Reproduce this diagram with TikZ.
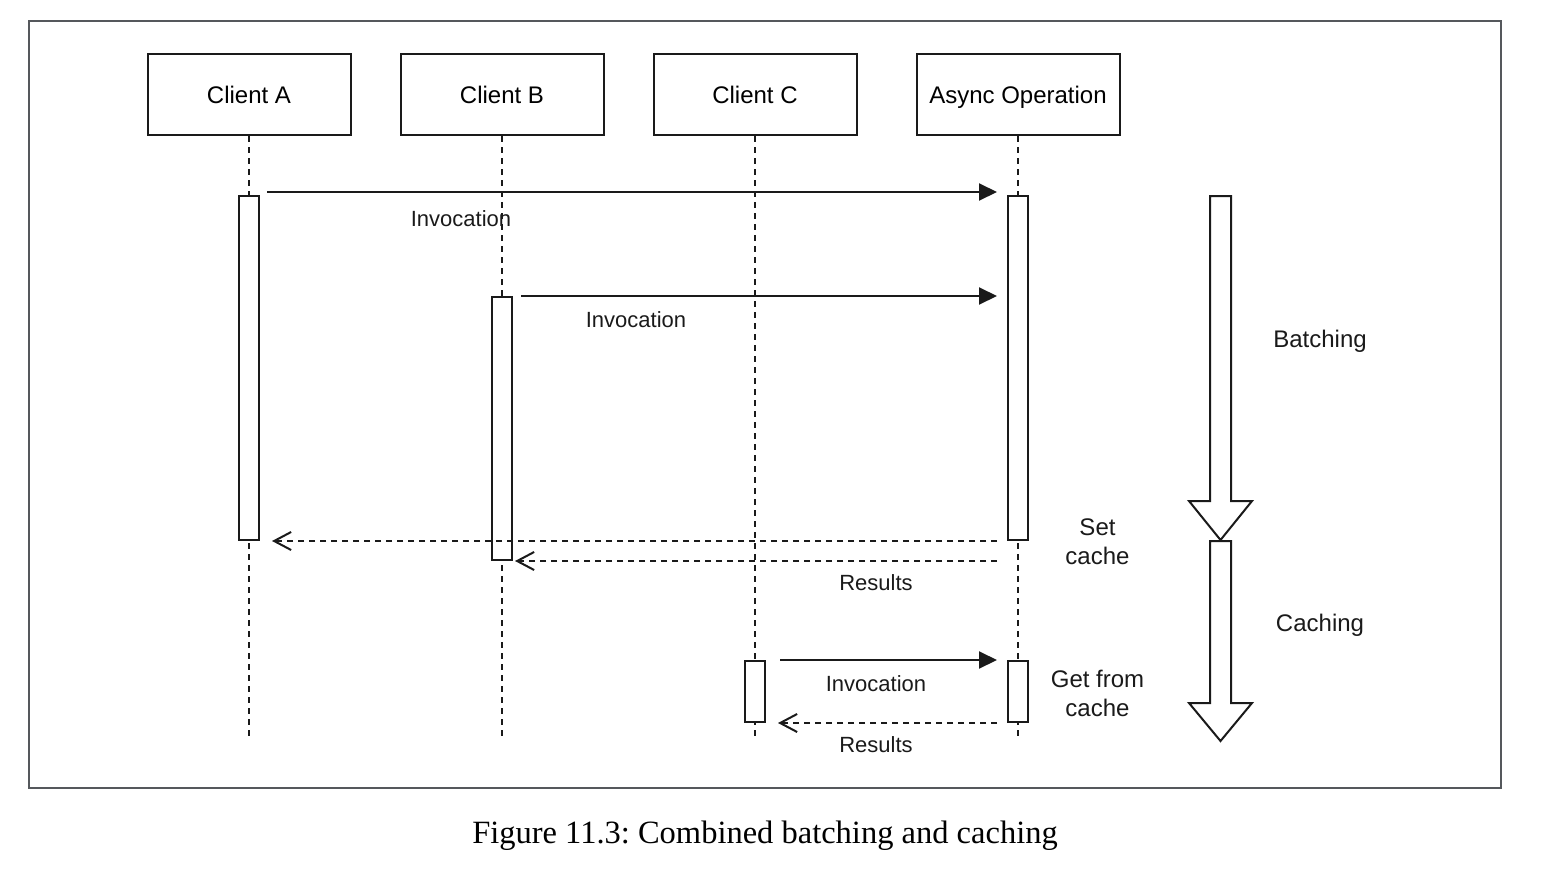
\documentclass[tikz,border=0pt]{standalone}
\usepackage{fontspec}
\setmainfont{Liberation Sans}
\newfontfamily\capfont{Liberation Serif}
\usetikzlibrary{arrows.meta,calc}
\definecolor{ink}{HTML}{1A1A1A}
\definecolor{framec}{HTML}{55585C}
\frenchspacing
\tikzset{
  head/.style={draw=ink, line width=2pt, minimum width=203pt, minimum height=81pt, inner sep=0pt,
    text height=17pt, text depth=0pt, font=\fontsize{24}{28}\selectfont},
  act/.style={draw=ink, fill=white, line width=2pt, minimum width=20pt, inner sep=0pt},
  life/.style={draw=ink, line width=2pt, dash pattern=on 6pt off 5pt},
  call/.style={draw=ink, line width=2pt, -{Triangle[length=18pt,width=17pt]}},
  reply/.style={draw=ink, line width=1.8pt, dash pattern=on 6pt off 5pt, -{Straight Barb[length=17pt,width=18pt,line width=2pt]}},
  msg/.style={inner sep=0pt, anchor=base, font=\fontsize{22}{26}\selectfont, text=ink},
  side/.style={inner sep=0pt, anchor=base, align=center, font=\fontsize{24}{28.5}\selectfont, text=ink},
  phase/.style={draw=ink, fill=white, line width=2pt, line join=miter}
}
\begin{document}
\begin{tikzpicture}[x=1pt,y=-1pt]
\useasboundingbox (0,0) rectangle (1548,870);
\draw[framec, line width=2.5pt] (29,21) rectangle (1501,788);

% headers
\node[head] (A) at (249,94.5) {Client A};
\node[head] (B) at (502,94.5) {Client B};
\node[head] (C) at (755,94.5) {Client C};
\node[head] (S) at (1018,94.5) {Async Operation};

% lifeline ends
\coordinate (endA) at (249,737);
\coordinate (endB) at (502,737);
\coordinate (endC) at (755,737);
\coordinate (endS) at (1018,737);
\draw[life] (A.south) -- (endA);
\draw[life] (B.south) -- (endB);
\draw[life] (C.south) -- (endC);
\draw[life] (S.south) -- (endS);

% activations
\node[act, minimum height=344pt] (aA) at (249,368) {};
\node[act, minimum height=344pt] (aS1) at (1018,368) {};
\node[act, minimum height=263pt] (aB) at (502,428.5) {};
\node[act, minimum height=61pt] (aC) at (755,691.5) {};
\node[act, minimum height=61pt] (aS2) at (1018,691.5) {};

% messages
\draw[call] ($(aA.north east)+(7,-3)$) -- ($(aS1.north west)+(-10,-3)$);
\node[msg] (l1) at (461,226) {Invocation};
\draw[call] ($(aB.north east)+(8,0)$) -- ($(aS1.west |- aB.north)+(-10,0)$);
\node[msg] (l2) at (636,327) {Invocation};
\draw[reply] ($(aS1.south west)+(-10,0)$) -- ($(aA.south east)+(12,0)$);
\draw[reply] ($(aS1.west |- aB.south)+(-10,0)$) -- ($(aB.south east)+(2,0)$);
\node[msg] (l3) at (876,590) {Results};
\draw[call] ($(aC.north east)+(14,0)$) -- ($(aS2.north west)+(-10,0)$);
\node[msg] (l4) at (876,691) {Invocation};
\draw[reply] ($(aS2.south west)+(-10,0)$) -- ($(aC.south east)+(12,0)$);
\node[msg] (l5) at (876,752) {Results};

% side notes (base = baseline of the last line)
\node[side] (setc) at (1097.5,564) {Set\\cache};
\node[side] (getc) at (1097.5,716) {Get from\\cache};
\node[side] (bat) at (1320,347.5) {Batching};
\node[side] (cac) at (1320,631) {Caching};

% phase arrows
\draw[phase] (1210,196) -- (1231,196) -- (1231,501) -- (1252,501) -- (1220.5,540) -- (1189,501) -- (1210,501) -- cycle;
\draw[phase] (1210,541) -- (1231,541) -- (1231,703) -- (1252,703) -- (1220.5,741) -- (1189,703) -- (1210,703) -- cycle;

% caption
\node[inner sep=0pt, anchor=base, font=\capfont\fontsize{32.5}{36}\selectfont] (cap) at (765,843) {Figure 11.3: Combined batching and caching};
\end{tikzpicture}
\end{document}
